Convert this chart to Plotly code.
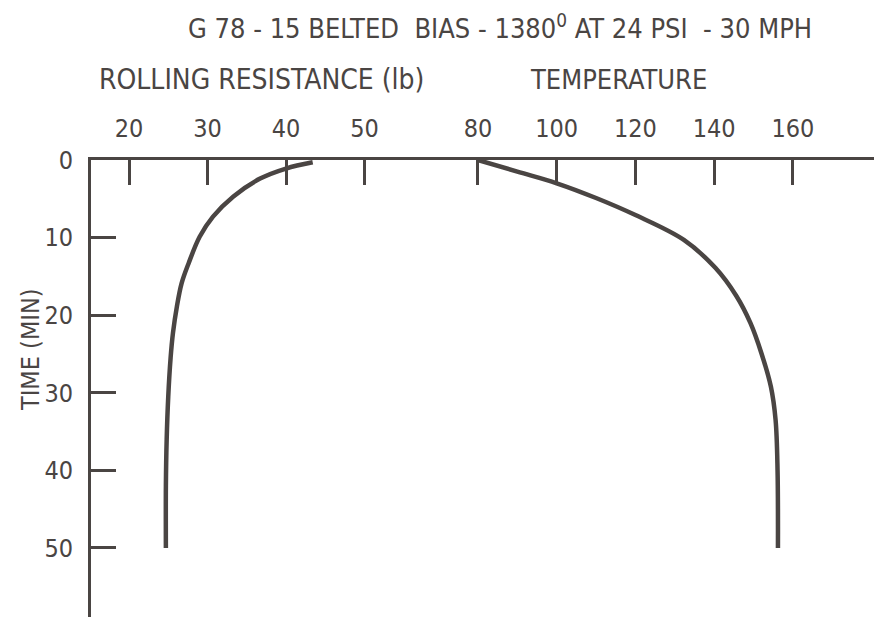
import plotly.graph_objects as go

# Rolling resistance (lb) vs. time (min)
rr_lb = [43.4, 40.0, 36.7, 33.3, 30.7, 29.0, 27.6, 26.7, 26.1, 25.6, 25.3, 25.0, 24.8, 24.7, 24.7]
rr_min = [0.3, 1.1, 2.4, 4.7, 7.3, 9.9, 13.3, 15.9, 18.9, 22.3, 25.5, 30.5, 36.0, 42.0, 50.0]

# Tire temperature vs. time (min)
temp_deg = [80, 90, 100, 110, 120.0, 132.3, 140.3, 145.6, 149.2, 152.0, 154.4, 155.6, 156.1, 156.2]
temp_min = [0.0, 1.5, 3.0, 4.9, 7.1, 10.3, 13.9, 17.5, 21.0, 24.9, 29.2, 33.5, 40.0, 50.0]

rr_ticks = [20, 30, 40, 50]
temp_ticks = [80, 100, 120, 140, 160]
time_ticks = [0, 10, 20, 30, 40, 50]

INK = "#4a4543"
FONT = "Liberation Sans Narrow, DejaVu Sans Condensed, Arial Narrow, sans-serif"

fig = go.Figure()
fig.add_trace(go.Scatter(x=rr_lb, y=rr_min, mode="lines", xaxis="x", yaxis="y",
                         line=dict(color=INK, width=4.5, shape="spline", smoothing=1.0),
                         hoverinfo="skip", showlegend=False))
fig.add_trace(go.Scatter(x=temp_deg, y=temp_min, mode="lines", xaxis="x2", yaxis="y",
                         line=dict(color=INK, width=4.5, shape="spline", smoothing=1.0),
                         hoverinfo="skip", showlegend=False))

W, H = 874, 617
L, T = 91, 160
pw, ph = W - L, H - T

def px_x(p):
    return (p - L) / pw

def px_y(p):
    return (H - p) / ph

axis_common = dict(showgrid=False, zeroline=False, showline=True, linecolor=INK, linewidth=3,
                   ticks="inside", ticklen=25, tickwidth=3, tickcolor=INK,
                   tickfont=dict(family=FONT, size=25, color=INK))

fig.update_layout(
    width=W, height=H,
    margin=dict(l=L, r=0, t=T, b=0),
    paper_bgcolor="white", plot_bgcolor="white",
    xaxis=dict(side="top", range=[15.16, 114.9], tickvals=rr_ticks, ticklabelstandoff=10, **axis_common),
    xaxis2=dict(side="top", overlaying="x", range=[-18.3, 180.6], tickvals=temp_ticks,
                ticklabelstandoff=10, **axis_common),
    yaxis=dict(range=[58.9, 0], tickvals=time_ticks, ticklabelstandoff=10, **axis_common),
    annotations=[
        dict(text="G 78 - 15 BELTED  BIAS - 1380<sup>0</sup> AT 24 PSI  - 30 MPH",
             x=px_x(500), y=px_y(26), xref="paper", yref="paper", showarrow=False,
             xanchor="center", yanchor="middle", font=dict(family=FONT, size=27, color=INK)),
        dict(text="ROLLING RESISTANCE (lb)", x=px_x(261), y=px_y(79), xref="paper", yref="paper",
             showarrow=False, xanchor="center", yanchor="middle",
             font=dict(family=FONT, size=28, color=INK)),
        dict(text="TEMPERATURE", x=px_x(618), y=px_y(79), xref="paper", yref="paper",
             showarrow=False, xanchor="center", yanchor="middle",
             font=dict(family=FONT, size=27, color=INK)),
        dict(text="TIME (MIN)", x=px_x(30), y=px_y(350), xref="paper", yref="paper",
             showarrow=False, xanchor="center", yanchor="middle", textangle=-90,
             font=dict(family=FONT, size=25, color=INK)),
    ],
)

fig.write_html("out.html")
